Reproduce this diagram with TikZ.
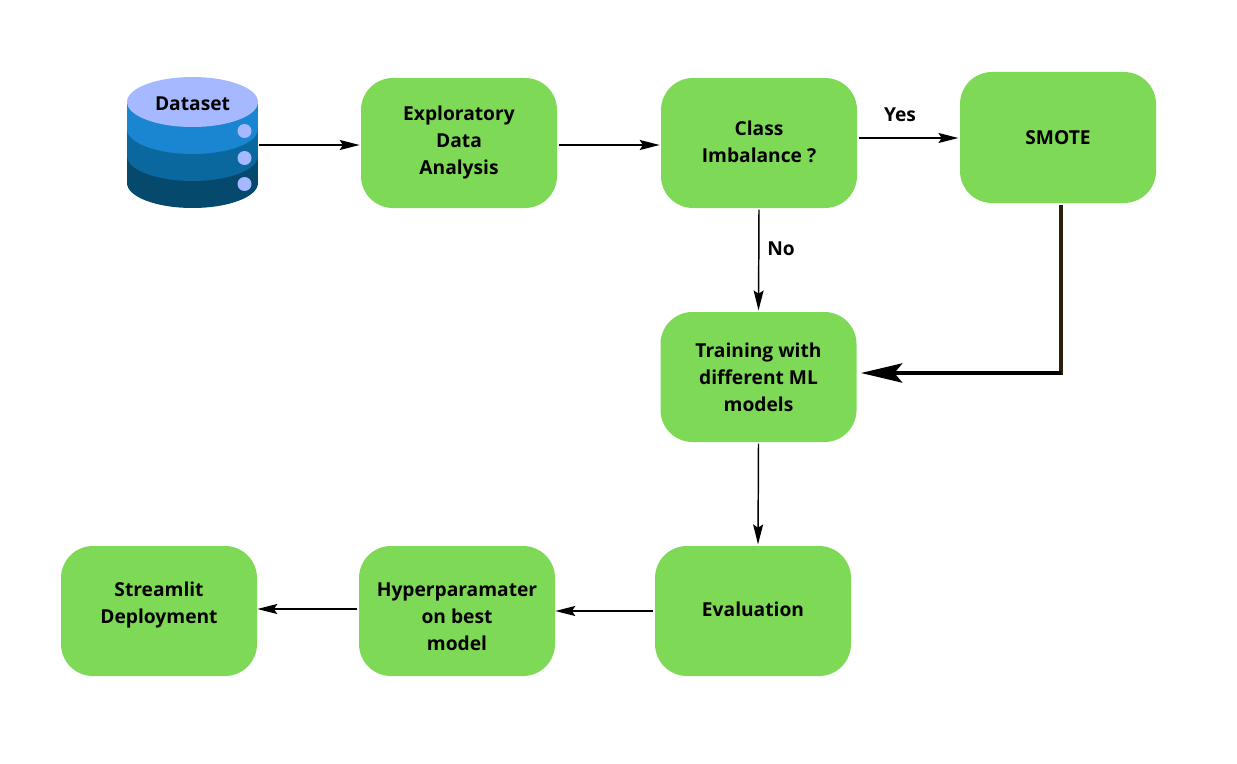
\documentclass[tikz,border=0pt]{standalone}
\usepackage{fontspec}
\setmainfont{Open Sans}
\usetikzlibrary{arrows.meta}
\definecolor{boxgreen}{HTML}{7ED957}
\definecolor{dblight}{HTML}{A6B8FF}
\definecolor{dbtop}{HTML}{1A85D0}
\definecolor{dbmid}{HTML}{0B689F}
\definecolor{dblow}{HTML}{05496D}
\definecolor{smline}{HTML}{2A2208}
\tikzset{
    stepbox/.style={fill=boxgreen, rounded corners=24pt, minimum width=147pt, minimum height=97.5pt, align=center, inner sep=0pt},
    label/.style={font=\fontsize{14.4}{20.25}\selectfont\bfseries, text=black},
    flow/.style={line width=1.1pt, shorten <=1pt, shorten >=1pt, -{Stealth[length=15pt,width=7.5pt,inset=2.5pt]}},
}

\begin{document}
\begin{tikzpicture}[x=0.75pt,y=-0.75pt]
    \useasboundingbox (0,0) rectangle (1237,763);

    \fill[dblow] (127,142) rectangle (258,183);
    \fill[dblow] (192.5,183) ellipse [x radius=65.5, y radius=25];
    \fill[dbmid] (127,129) rectangle (258,156);
    \fill[dbmid] (192.5,156) ellipse [x radius=65.5, y radius=25];
    \fill[dbtop] (127,102) rectangle (258,129);
    \fill[dbtop] (192.5,129) ellipse [x radius=65.5, y radius=25];
    \fill[dblight] (192.5,102) ellipse [x radius=65.5, y radius=25];
    \foreach \y in {131,158,184}
        \fill[dblight] (244.5,\y) circle [radius=7];

    \node[label] (data) at (192.5,103.5) {Dataset};
    \coordinate (dataout) at (258,145);
    \coordinate (edain) at (361,145);
    \coordinate (edaout) at (557.5,145);
    \coordinate (classin) at (661,145);

    \node[stepbox,label] (eda) at (459,143) {Exploratory\\Data\\Analysis};
    \node[stepbox,label] (class) at (759,143) {Class\\Imbalance ?\\[-18pt]\mbox{}};
    \node[stepbox,label,minimum height=98.25pt] (smote) at (1058,137.5) {SMOTE};
    \node[stepbox,label] (train) at (758.5,377) {Training with\\different ML\\models};
    \node[stepbox,label] (eval) at (753,611) {\raisebox{2.25pt}{Evaluation}};
    \node[stepbox,label] (hyper) at (457,611) {\mbox{}\\[-2pt]Hyperparamater\\on best\\model};
    \node[stepbox,label] (deploy) at (159,611) {Streamlit\\Deployment\\[-8pt]\mbox{}};

    \node[label] (yes) at (900,115) {Yes};
    \node[label] (no) at (781,249) {No};

    \draw[flow] (dataout) -- (edain);
    \draw[flow] (edaout) -- (classin);
    \draw[flow] ([yshift=3.75pt]class.east) -- ([yshift=3.75pt]class.east -| smote.west);
    \draw[flow] (class.south) -- (train.north);

    \coordinate (smbend) at (1061,375);
    \coordinate (smjoin) at (1061,373);
    \coordinate (trainin) at (861,373);
    \draw[smline, line width=2.4pt, shorten <=1.5pt] (smbend |- smote.south) -- (smbend);
    \draw[line width=2.4pt, -{Stealth[length=31pt,width=14.5pt,inset=6pt]}] (smjoin) -- (trainin);

    \draw[flow] (train.south) -- ([xshift=3.75pt]eval.north);
    \draw[flow, shorten >=0pt] (eval.west) -- (hyper.east);
    \draw[flow, shorten >=0pt] ([yshift=1.5pt]hyper.west) -- ([yshift=1.5pt]deploy.east);
\end{tikzpicture}
\end{document}
